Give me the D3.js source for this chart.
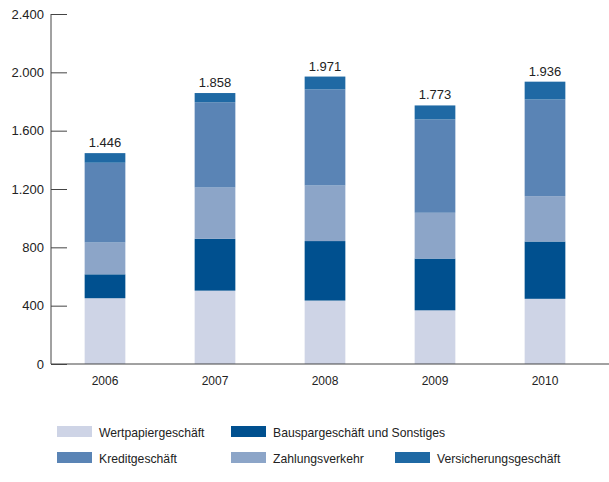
<!DOCTYPE html>
<html>
<head>
<meta charset="utf-8">
<script src="https://cdn.jsdelivr.net/npm/d3@7"></script>
<style>
  body { margin: 0; background: #fff; }
  #chart { font-family: "Liberation Sans", Arial, sans-serif; }
</style>
</head>
<body>
<div id="chart"></div>
<script>
// Data (Mio. EUR per year)
const years = ["2006", "2007", "2008", "2009", "2010"];
const series = ["Wertpapiergeschäft", "Bauspargeschäft und Sonstiges", "Zahlungsverkehr", "Kreditgeschäft", "Versicherungsgeschäft"];
const wertpapier = [451, 503, 435, 368, 447];
const bauspar = [164, 355, 408, 355, 393];
const zahlung = [218, 352, 381, 314, 311];
const kredit = [547, 585, 659, 641, 663];
const versicherung = [66, 63, 88, 95, 122];
const totals = [1446, 1858, 1971, 1773, 1936];
const yTicks = [0, 400, 800, 1200, 1600, 2000, 2400];

const colors = {
    "Wertpapiergeschäft": "#ced4e6",
    "Bauspargeschäft und Sonstiges": "#00508f",
    "Zahlungsverkehr": "#8ca5c8",
    "Kreditgeschäft": "#5a84b5",
    "Versicherungsgeschäft": "#1f69a4"
};

// legend layout: [series, row, col]
const legendItems = [
    ["Wertpapiergeschäft", 0, 0],
    ["Bauspargeschäft und Sonstiges", 0, 1],
    ["Kreditgeschäft", 1, 0],
    ["Zahlungsverkehr", 1, 1],
    ["Versicherungsgeschäft", 1, 2]
];

const de = d3.formatLocale({ decimal: ",", thousands: ".", grouping: [3], currency: ["", " €"] });
const fmt = de.format(",");

const width = 609, height = 482;

const data = years.map((y, i) => ({
    year: y,
    "Wertpapiergeschäft": wertpapier[i],
    "Bauspargeschäft und Sonstiges": bauspar[i],
    "Zahlungsverkehr": zahlung[i],
    "Kreditgeschäft": kredit[i],
    "Versicherungsgeschäft": versicherung[i],
    total: totals[i]
}));

const svg = d3.select("#chart")
    .append("svg")
    .attr("width", width)
    .attr("height", height);

const x = d3.scaleBand()
    .domain(years)
    .range([50, 600])
    .paddingInner(0.63)
    .paddingOuter(0.315);

const y = d3.scaleLinear()
    .domain([0, 2400])
    .range([364, 14]);

// y axis with ticks pointing inward
const yAxis = svg.append("g")
    .attr("transform", "translate(51,0)")
    .call(d3.axisRight(y)
        .tickValues(yTicks)
        .tickSize(16)
        .tickFormat(d => fmt(d)));
yAxis.select(".domain").remove();
yAxis.selectAll(".tick line").attr("stroke", "#444");
yAxis.selectAll("text")
    .attr("x", -7)
    .attr("text-anchor", "end")
    .style("font-size", "13px")
    .style("font-family", "Liberation Sans, Arial, sans-serif")
    .attr("fill", "#222");

svg.append("line")
    .attr("x1", 51).attr("x2", 51)
    .attr("y1", y(2400)).attr("y2", y(0))
    .attr("stroke", "#444");

// stacked bars
const stack = d3.stack().keys(series);
const layers = stack(data);

svg.append("g")
    .selectAll("g")
    .data(layers)
    .join("g")
    .attr("fill", d => colors[d.key])
    .selectAll("rect")
    .data(d => d)
    .join("rect")
    .attr("x", d => x(d.data.year))
    .attr("width", x.bandwidth())
    .attr("y", d => y(d[1]))
    .attr("height", d => y(d[0]) - y(d[1]));

// totals above bars
svg.selectAll(".total")
    .data(data)
    .join("text")
    .attr("class", "total")
    .attr("x", d => x(d.year) + x.bandwidth() / 2)
    .attr("y", d => y(d.total) - 6)
    .attr("text-anchor", "middle")
    .style("font-size", "13px")
    .attr("fill", "#222")
    .text(d => fmt(d.total));

// x axis
const xAxis = svg.append("g")
    .attr("transform", `translate(0,${y(0)})`)
    .call(d3.axisBottom(x).tickSize(0).tickPadding(12));
xAxis.select(".domain").remove();
xAxis.selectAll("text")
    .style("font-size", "12px")
    .style("font-family", "Liberation Sans, Arial, sans-serif")
    .attr("fill", "#222");

svg.append("line")
    .attr("x1", 51).attr("x2", width)
    .attr("y1", y(0)).attr("y2", y(0))
    .attr("stroke", "#444");

// legend
const colX = [57, 231, 395];
const rowY = [426, 452];
const legend = svg.append("g")
    .selectAll("g")
    .data(legendItems)
    .join("g")
    .attr("transform", d => `translate(${colX[d[2]]},${rowY[d[1]]})`);

legend.append("rect")
    .attr("width", 35)
    .attr("height", 11)
    .attr("fill", d => colors[d[0]]);

legend.append("text")
    .attr("x", 42)
    .attr("y", 11)
    .style("font-size", "12.2px")
    .attr("fill", "#222")
    .text(d => d[0]);
</script>
</body>
</html>
